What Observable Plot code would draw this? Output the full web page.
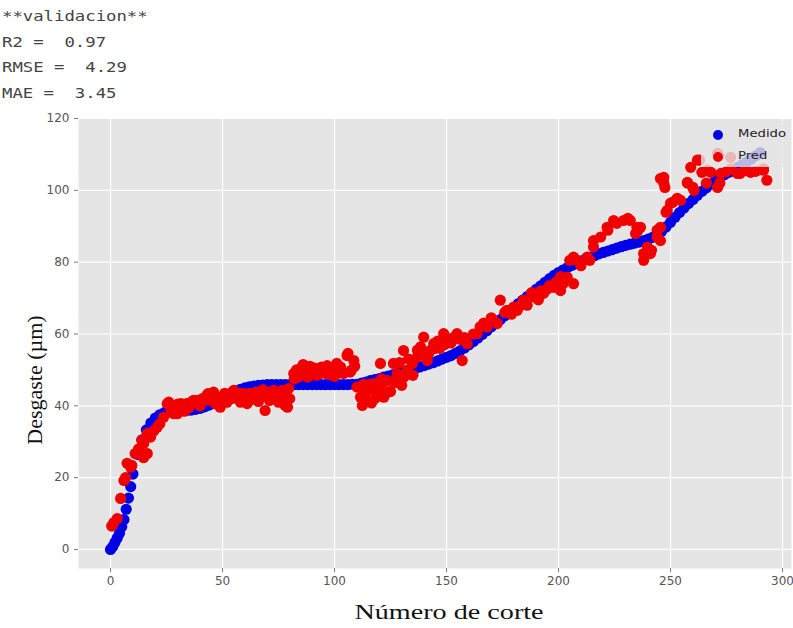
<!DOCTYPE html>
<html>
<head>
<meta charset="utf-8">
<script src="https://cdn.jsdelivr.net/npm/d3@7"></script>
<script src="https://cdn.jsdelivr.net/npm/@observablehq/plot@0.6"></script>
<style>
  html, body { margin: 0; padding: 0; background: #ffffff; }
  #wrap { position: relative; width: 793px; height: 628px; overflow: hidden; background: #fff; }
  #stats { position: absolute; left: 2px; top: 4px; font-family: "DejaVu Sans Mono", monospace; font-size: 13.5px; color: #444; white-space: pre; line-height: 25.5px; transform: scaleX(1.28); transform-origin: 0 0; }
  #chart { position: absolute; left: 0; top: 105px; }
  #ylab { position: absolute; left: 35px; top: 380px; font-family: "Liberation Serif", "DejaVu Serif", serif; font-size: 22px; color: #111; transform: translate(-50%, -50%) rotate(-90deg); white-space: nowrap; }
  #xlab { position: absolute; left: 449px; top: 612px; font-family: "Liberation Serif", "DejaVu Serif", serif; font-size: 22px; color: #111; transform: translate(-50%, -50%) scaleX(1.28); white-space: nowrap; }
  #legend { position: absolute; left: 701px; top: 121px; width: 88px; height: 46px; background: rgba(229,229,229,0.8); }
  .li { position: absolute; left: 0; height: 20px; font-family: "DejaVu Sans", sans-serif; font-size: 11px; color: #222; }
  .li span.m { position: absolute; left: 12px; top: 6px; width: 10px; height: 10px; border-radius: 50%; }
  .li span.t { position: absolute; left: 37px; top: 3px; transform: scaleX(1.2); transform-origin: 0 0; }
</style>
</head>
<body>
<div id="wrap">
  <div id="stats"></div>
  <div id="chart"></div>
  <div id="ylab">Desgaste (µm)</div>
  <div id="xlab">Número de corte</div>
  <div id="legend"></div>
</div>
<script>
const statLines = ["**validacion**", "R2 =  0.97", "RMSE =  4.29", "MAE =  3.45"];
const seriesNames = ["Medido", "Pred"];
const seriesColors = ["#0000e8", "#f20000"];
const xTicks = [0, 50, 100, 150, 200, 250, 300];
const yTicks = [0, 20, 40, 60, 80, 100, 120];

const medidoX = [0,1,2,3,4,5,6,7,8,9,10,12,14,16,18,20,22,24,26,28,30,32,34,36,38,40,42,44,46,48,50,52,54,56,58,60,62,64,66,68,70,72,74,76,78,80,82,84,86,88,90,92,94,96,98,100,102,104,106,108,110,112,114,116,118,120,122,124,126,128,130,132,134,136,138,140,142,144,146,148,150,152,154,156,158,160,162,164,166,168,170,172,174,176,178,180,182,184,186,188,190,192,194,196,198,200,202,204,206,208,210,212,214,216,218,220,222,224,226,228,230,232,234,236,238,240,242,244,246,248,250,252,254,256,258,260,262,264,266,268,270,272,274,276,278,280,282,284,286,288,290];
const medidoY = [0,0.8,2.0,3.2,4.5,6.3,8.3,11.2,14.3,17.5,21.0,26.5,30.5,33.3,35.2,36.6,37.5,38.1,38.4,38.6,38.7,38.7,38.7,38.8,39.0,39.3,39.7,40.2,40.9,41.6,42.3,43.0,43.6,44.1,44.6,45.0,45.3,45.5,45.7,45.8,45.9,45.9,45.9,45.9,45.9,45.9,45.9,45.9,45.9,45.9,45.9,45.9,45.9,45.9,45.9,45.9,45.9,45.9,45.9,46.0,46.0,46.3,46.6,47.0,47.3,47.6,48.0,48.3,48.6,49.0,49.3,49.7,50.1,50.4,50.8,51.2,51.6,52.0,52.5,53.0,53.5,54.0,54.6,55.3,56.1,57.0,57.9,58.9,59.9,60.9,62.0,63.0,64.0,65.1,66.2,67.3,68.4,69.4,70.4,71.4,72.4,73.4,74.4,75.4,76.3,77.1,77.8,78.5,79.1,79.7,80.3,80.8,81.3,81.8,82.3,82.7,83.1,83.5,83.9,84.3,84.7,85.0,85.3,85.6,86.0,86.4,86.9,87.6,88.6,89.8,91.1,92.5,93.8,95.1,96.3,97.4,98.6,99.7,100.7,101.7,102.6,103.5,104.3,105.0,105.7,106.4,107.1,107.9,108.7,109.6,110.5];

const predX = [0.5,1.5,3,4.5,6,6.7,7.4,9,9.5,11,12,12.5,14.7,14.8,16.4,14,14.8,16.4,17.9,19.3,20.8,22,23.7,25.3,26,28.2,29.8,31,31.5,34,35,37,38.7,40,41,43,43.5,45,46,47,49,50,52,53,55,56.5,58,59,61,61.5,62,64,66,67,67.5,68,69,70,72.8,73,74,76,76.5,77.4,78,79,79.5,80,81.8,82,85,84,87.8,88.2,88,90.8,92,93.8,94.2,96.7,97,99.6,100,101,102.7,104,105.6,106,107,107.5,108.6,109,110,111.6,112.4,113,114.6,115,116,116.5,117.4,118,119,120.5,121,122,123.5,124,125,126.3,127,127.5,128,130,130.8,132.4,133,134.7,135,136.9,138.4,139.8,140,141.4,142,144.3,146,147,148.7,150,151.8,153,154.7,156,157,159.2,162,163.7,166.6,168,171,172.6,174,177,179,181.6,184.4,186,189,191,193.3,195,197.8,200.9,202,203.9,205,206.7,206.7,208.3,210,212.8,214,215.6,215.6,218.8,222,221.7,224.6,226,229,231,232,235,234.4,235.5,236.6,238,238,239.7,241,241.5,244,244,245.5,245.5,248,248.5,250,251,253,254.5,247,247,245.5,247.5,257.6,257.5,260,260.5,259,262,263,266.5,266,271,271.5,272,271,272.5,276.8,279.9,281,285.7,291.5,291.5,293,264,268,275,283,288,277,
  27,30,33,36,39,42,44,48,51,54,57,60,63,65,71,75,78,83,86,89,91,95,98,103,100,86,113,118,121,129,131,137,143,145,149,152,155,158,165,170,176,180,183,188,192,196,199,201];
const predY = [6.5,7.5,8.6,14.2,19.2,20,24,22.9,23.4,26.7,27,28,25.6,25.7,26.7,30.4,29.5,32.3,31.3,33,34,35,36.8,40.6,41,37.8,37.8,39.6,40.6,40.6,39.5,41.5,41.5,40,42,42.9,43.4,41.5,43.8,40.5,39.6,42.5,41,43,44.3,42,41,43.5,40.6,42.4,43.5,42.9,41.2,42.4,43.4,44.5,38.7,43.8,44.3,42.4,42.5,43.4,44.3,40.6,40.1,39.6,44.8,42,49,47.5,50.4,48,50.8,49.9,48,49.9,48.5,49,50.8,51.2,48.8,49,49.9,51.8,50.8,49,54,54.6,49.4,49.9,52.6,51,45.2,42.4,40.1,44,44.3,41.5,46,40.8,46.2,42,43.4,51.8,45,42.4,47,43.8,44,51.8,46.5,47.5,49,45.7,55.4,49.9,53,51.8,48.5,53.6,56.4,59.1,55,52.6,54.5,57.3,58,56,60.1,57.5,58.2,59,60.1,58.5,52.6,57.3,60,60.1,63,61.9,63.8,62.9,69.4,66.6,65.5,66.6,69.4,68,70.3,69.5,71.3,72.5,73,72.1,74,75.8,80.5,74,81.4,80.5,79,81.4,80.5,84.2,86,87,88.9,89.7,91.6,90.8,91.6,92.2,91.6,89.7,88,88.9,89.7,80.5,82.4,84.2,82.4,83.3,87,88.9,86,89.7,93.9,94.4,96.4,96.7,97.8,97.2,103.6,102,103.3,100.8,102,102.2,100.8,100,106.4,108.4,108.4,105.6,102,110.3,109.7,102,100.8,104.7,109.2,104.7,104.7,105,105.6,106,102.8,105,105,105.2,105.5,105.3,106,
  39,40.5,38.5,41,40.5,41.5,42.5,41.5,43.5,42,43.5,41.5,41.8,43.8,41.5,41,43.5,50,49,51,50.5,50,50.5,49.5,48.2,51.5,46,44.5,47.5,52,48,55.5,55.5,56,57,57.5,59.5,59,62,64.5,66,67.5,68,71.5,72,73.5,74.5,76];

const medido = medidoX.map((x, i) => ({x, y: medidoY[i]}));
const pred = predX.map((x, i) => ({x, y: predY[i]}));

document.getElementById("stats").textContent = statLines.join("\n");

const chart = Plot.plot({
  width: 793,
  height: 523,
  marginTop: 13,
  marginBottom: 60,
  marginLeft: 78,
  marginRight: 2,
  style: {background: "transparent", fontFamily: "DejaVu Sans, sans-serif", fontSize: "12px", color: "#555"},
  x: {domain: [-14.3, 304], label: null},
  y: {domain: [-5.3, 120], label: null},
  marks: [
    Plot.frame({fill: "#e5e5e5", stroke: null}),
    Plot.gridX(xTicks, {stroke: "#ffffff", strokeOpacity: 1, strokeWidth: 1.2}),
    Plot.gridY(yTicks, {stroke: "#ffffff", strokeOpacity: 1, strokeWidth: 1.2}),
    Plot.axisX(xTicks, {tickSize: 4, tickPadding: 4, stroke: "#777", fill: "#555", fontSize: 12, label: null}),
    Plot.axisY(yTicks, {tickSize: 4, tickPadding: 5, stroke: "#777", fill: "#555", fontSize: 12, label: null}),
    Plot.dot(medido, {x: "x", y: "y", r: 5.6, fill: seriesColors[0], stroke: null}),
    Plot.dot(pred, {x: "x", y: "y", r: 5.6, fill: seriesColors[1], stroke: null})
  ]
});
document.getElementById("chart").appendChild(chart);

const legend = document.getElementById("legend");
seriesNames.forEach((name, i) => {
  const row = document.createElement("div");
  row.className = "li";
  row.style.top = (3 + i * 22) + "px";
  row.style.width = "88px";
  row.innerHTML = `<span class="m" style="background:${seriesColors[i]}"></span><span class="t">${name}</span>`;
  legend.appendChild(row);
});
</script>
</body>
</html>
